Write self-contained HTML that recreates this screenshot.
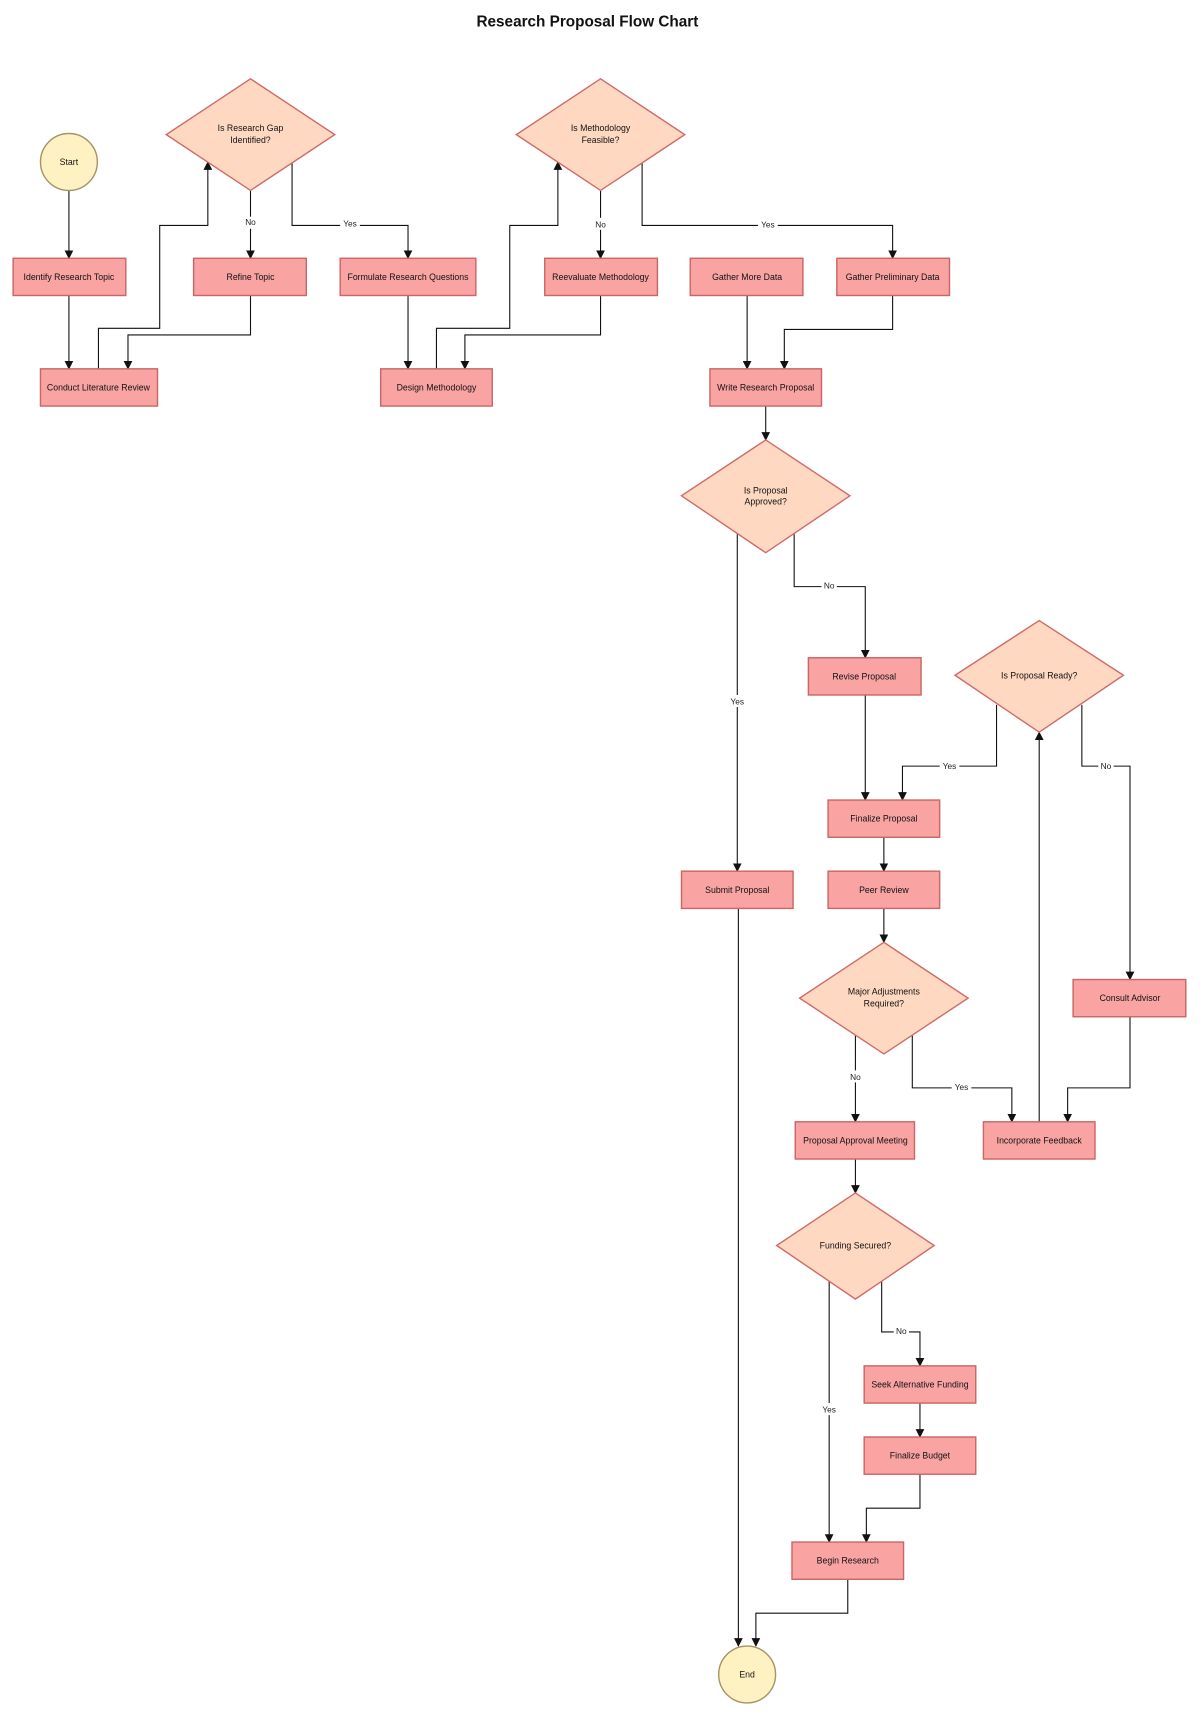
<!DOCTYPE html>
<html><head><meta charset="utf-8"><style>
html,body{margin:0;padding:0;background:#fff;width:1200px;height:1715px;overflow:hidden}
svg{display:block}
text{font-family:"Liberation Sans",Arial,sans-serif;fill:#111}
.b{fill:#f9a3a3;stroke:#c96666;stroke-width:1.3}
.d{fill:#ffd8c1;stroke:#cf6b6b;stroke-width:1.3}
.c{fill:#fff2c2;stroke:#a59466;stroke-width:1.3}
.e{fill:none;stroke:#111;stroke-width:1}
.t{font-size:8px;text-anchor:middle;dominant-baseline:central}
.l{font-size:7.6px;text-anchor:middle;dominant-baseline:central;fill:#222}
.lb{fill:#fff}
</style></head><body>
<svg width="1200" height="1715" viewBox="0 0 1097 1567" preserveAspectRatio="none" xmlns="http://www.w3.org/2000/svg">
<defs><marker id="a" viewBox="0 0 10 10" refX="9" refY="5" markerWidth="8" markerHeight="8" markerUnits="userSpaceOnUse" orient="auto"><path d="M0,0L10,5L0,10z" fill="#111"/></marker></defs>
<text x="537" y="20" style="font-size:14px;font-weight:bold;text-anchor:middle;dominant-baseline:central">Research Proposal Flow Chart</text>

<g class="e" marker-end="url(#a)">
<path d="M63,174V236"/>
<path d="M63,270V337"/>
<path d="M90,337V300H146V206H190V148"/>
<path d="M229,174V236"/>
<path d="M267,148V206H373V236"/>
<path d="M229,270V306H117V337"/>
<path d="M373,270V337"/>
<path d="M399,337V300H466V206H510V148"/>
<path d="M549,174V236"/>
<path d="M587,148V206H816V236"/>
<path d="M549,270V306H425V337"/>
<path d="M683,270V337"/>
<path d="M816,270V301H717V337"/>
<path d="M700,371V402"/>
<path d="M674,488V796"/>
<path d="M726,488V536H791V601"/>
<path d="M791,635V731"/>
<path d="M911,644V700H825V731"/>
<path d="M989,644V700H1033V895"/>
<path d="M808,765V796"/>
<path d="M808,830V861"/>
<path d="M675,830V1504"/>
<path d="M782,946V1025"/>
<path d="M834,946V994H925V1025"/>
<path d="M1033,929V994H976V1025"/>
<path d="M950,1025V669"/>
<path d="M782,1059V1090"/>
<path d="M758,1170V1409"/>
<path d="M806,1170V1217H841V1248"/>
<path d="M841,1282V1313"/>
<path d="M841,1347V1378H792V1409"/>
<path d="M775,1443V1474H691V1504"/>
</g>
<g>
<rect class="lb" x="222" y="198" width="14" height="11"/><text class="l" x="229" y="203">No</text>
<rect class="lb" x="311" y="198" width="18" height="11"/><text class="l" x="320" y="204">Yes</text>
<rect class="lb" x="542" y="199" width="14" height="11"/><text class="l" x="549" y="205">No</text>
<rect class="lb" x="693" y="199" width="18" height="11"/><text class="l" x="702" y="205">Yes</text>
<rect class="lb" x="665" y="635" width="18" height="11"/><text class="l" x="674" y="641">Yes</text>
<rect class="lb" x="751" y="530" width="14" height="11"/><text class="l" x="758" y="535">No</text>
<rect class="lb" x="859" y="694" width="18" height="11"/><text class="l" x="868" y="700">Yes</text>
<rect class="lb" x="1004" y="694" width="14" height="11"/><text class="l" x="1011" y="700">No</text>
<rect class="lb" x="775" y="978" width="14" height="11"/><text class="l" x="782" y="984">No</text>
<rect class="lb" x="870" y="987" width="18" height="11"/><text class="l" x="879" y="993">Yes</text>
<rect class="lb" x="749" y="1282" width="18" height="11"/><text class="l" x="758" y="1288">Yes</text>
<rect class="lb" x="817" y="1210" width="14" height="11"/><text class="l" x="824" y="1216">No</text>
</g>

<circle class="c" cx="63" cy="148" r="26"/><text class="t" x="63" y="148">Start</text>
<circle class="c" cx="683" cy="1530" r="26"/><text class="t" x="683" y="1530">End</text>

<polygon class="d" points="229,72 306,123 229,174 152,123"/><text class="t" x="229" y="117">Is Research Gap</text><text class="t" x="229" y="128">Identified?</text>
<polygon class="d" points="549,72 626,123 549,174 472,123"/><text class="t" x="549" y="117">Is Methodology</text><text class="t" x="549" y="128">Feasible?</text>
<polygon class="d" points="700,402 777,453 700,505 623,453"/><text class="t" x="700" y="448">Is Proposal</text><text class="t" x="700" y="458">Approved?</text>
<polygon class="d" points="950,567 1027,617 950,669 873,617"/><text class="t" x="950" y="617">Is Proposal Ready?</text>
<polygon class="d" points="808,861 885,912 808,963 731,912"/><text class="t" x="808" y="906">Major Adjustments</text><text class="t" x="808" y="917">Required?</text>
<polygon class="d" points="782,1090 854,1138 782,1187 710,1138"/><text class="t" x="782" y="1138">Funding Secured?</text>

<rect class="b" x="12" y="236" width="103" height="34"/><text class="t" x="63" y="253">Identify Research Topic</text>
<rect class="b" x="177" y="236" width="103" height="34"/><text class="t" x="229" y="253">Refine Topic</text>
<rect class="b" x="311" y="236" width="124" height="34"/><text class="t" x="373" y="253">Formulate Research Questions</text>
<rect class="b" x="498" y="236" width="103" height="34"/><text class="t" x="549" y="253">Reevaluate Methodology</text>
<rect class="b" x="631" y="236" width="103" height="34"/><text class="t" x="683" y="253">Gather More Data</text>
<rect class="b" x="765" y="236" width="103" height="34"/><text class="t" x="816" y="253">Gather Preliminary Data</text>
<rect class="b" x="37" y="337" width="107" height="34"/><text class="t" x="90" y="354">Conduct Literature Review</text>
<rect class="b" x="348" y="337" width="102" height="34"/><text class="t" x="399" y="354">Design Methodology</text>
<rect class="b" x="649" y="337" width="102" height="34"/><text class="t" x="700" y="354">Write Research Proposal</text>
<rect class="b" x="739" y="601" width="103" height="34"/><text class="t" x="790" y="618">Revise Proposal</text>
<rect class="b" x="757" y="731" width="102" height="34"/><text class="t" x="808" y="748">Finalize Proposal</text>
<rect class="b" x="623" y="796" width="102" height="34"/><text class="t" x="674" y="813">Submit Proposal</text>
<rect class="b" x="757" y="796" width="102" height="34"/><text class="t" x="808" y="813">Peer Review</text>
<rect class="b" x="981" y="895" width="103" height="34"/><text class="t" x="1033" y="912">Consult Advisor</text>
<rect class="b" x="727" y="1025" width="109" height="34"/><text class="t" x="782" y="1042">Proposal Approval Meeting</text>
<rect class="b" x="899" y="1025" width="102" height="34"/><text class="t" x="950" y="1042">Incorporate Feedback</text>
<rect class="b" x="790" y="1248" width="102" height="34"/><text class="t" x="841" y="1265">Seek Alternative Funding</text>
<rect class="b" x="790" y="1313" width="102" height="34"/><text class="t" x="841" y="1330">Finalize Budget</text>
<rect class="b" x="724" y="1409" width="102" height="34"/><text class="t" x="775" y="1426">Begin Research</text>
</svg>
</body></html>
